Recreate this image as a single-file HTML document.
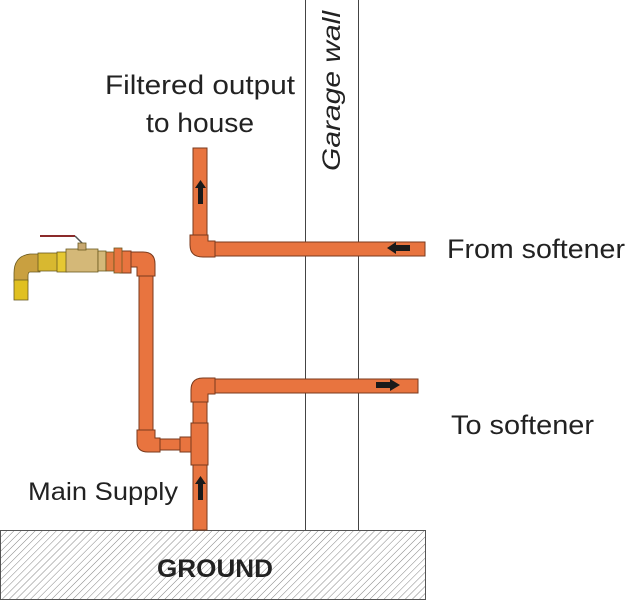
<!DOCTYPE html>
<html><head><meta charset="utf-8"><style>
html,body{margin:0;padding:0;background:#fff;}
svg{display:block;}
text{font-family:"Liberation Sans",sans-serif;fill:#222;}
</style></head><body>
<svg width="625" height="600" viewBox="0 0 625 600" xmlns="http://www.w3.org/2000/svg">
<defs>
<pattern id="h" width="5" height="5" patternUnits="userSpaceOnUse" patternTransform="rotate(45)">
<line x1="0" y1="0" x2="0" y2="5" stroke="#777" stroke-width="0.9"/>
</pattern>
</defs>
<line x1="305.5" y1="0" x2="305.5" y2="530" stroke="#444" stroke-width="1"/>
<line x1="358.5" y1="0" x2="358.5" y2="530" stroke="#444" stroke-width="1"/>
<rect x="0.5" y="530.5" width="425" height="69" fill="url(#h)" stroke="#555" stroke-width="1"/>
<text x="157" y="577" font-size="25" font-weight="bold" textLength="116" lengthAdjust="spacingAndGlyphs">GROUND</text>

<g fill="#e8743f" stroke="#7a3a1c" stroke-width="1">
<rect x="193" y="148" width="14" height="88"/>
<rect x="215" y="242" width="210" height="14"/>
<path d="M190 235 H208 V241 H215 V257 H203 Q190 257 190 245 Z"/>
<rect x="215" y="379" width="203" height="14"/>
<path d="M191 402 V390 Q191 378 203 378 H215 V394 H208 V402 Z"/>
<rect x="193" y="402" width="14" height="21"/>
<rect x="191" y="423" width="17" height="42"/>
<rect x="180" y="437" width="11" height="15"/>
<rect x="193" y="465" width="14" height="65"/>
<rect x="160" y="439" width="20" height="11"/>
<path d="M137 430 H155 V438 H160 V452 H148 Q137 452 137 442 Z"/>
<rect x="139" y="276" width="14" height="154"/>
<path d="M131 252 H143 Q155 252 155 264 V276 H137 V267 H131 Z"/>
<rect x="120" y="251" width="11" height="22"/>
</g>
<g fill="#1a1a1a">
<rect x="198" y="186" width="5" height="18"/><polygon points="195,188 200.5,180 206,188"/>
<rect x="198" y="482" width="5" height="18"/><polygon points="195,484 200.5,476 206,484"/>
<rect x="394" y="245" width="16" height="6"/><polygon points="396,242 387,248 396,254"/>
<rect x="376" y="382" width="16" height="6"/><polygon points="390,379 400,385 390,391"/>
</g>
<line x1="40" y1="236" x2="75" y2="236" stroke="#8b2a2a" stroke-width="2"/>
<line x1="75" y1="236" x2="83" y2="244" stroke="#555" stroke-width="1.5"/>
<g stroke="#6a5a20" stroke-width="0.8">
<path d="M14 273 Q14 256 30 254 H40 V272 H30 Q28 272 28 276 V282 H14 Z" fill="#c9a040"/>
<rect x="14" y="280" width="14" height="20" fill="#e0c020"/>
<rect x="38" y="253" width="22" height="18" fill="#d8b830"/>
<rect x="57" y="252" width="10" height="20" fill="#e6c832"/>
<rect x="66" y="249" width="32" height="23" fill="#d4b878"/>
<rect x="78" y="243" width="8" height="7" fill="#c8a870"/>
<rect x="98" y="251" width="8" height="20" fill="#d4b878"/>
<rect x="106" y="252" width="8" height="19" fill="#e27a40"/>
<rect x="114" y="248" width="8" height="25" fill="#e8743f"/>
</g>
<text x="105" y="94" font-size="27" textLength="190" lengthAdjust="spacingAndGlyphs">Filtered output</text>
<text x="146" y="132" font-size="27" textLength="108" lengthAdjust="spacingAndGlyphs">to house</text>
<text transform="translate(340 171) rotate(-90)" font-size="25" font-style="italic" textLength="160" lengthAdjust="spacingAndGlyphs">Garage wall</text>
<text x="447" y="258" font-size="27" textLength="178" lengthAdjust="spacingAndGlyphs">From softener</text>
<text x="451" y="434" font-size="27" textLength="143" lengthAdjust="spacingAndGlyphs">To softener</text>
<text x="28" y="500" font-size="25" textLength="150" lengthAdjust="spacingAndGlyphs">Main Supply</text>
</svg>
</body></html>
